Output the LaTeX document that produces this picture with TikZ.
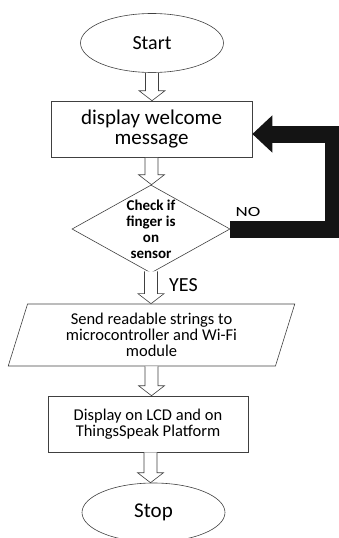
\documentclass[tikz,border=0pt]{standalone}
\usepackage{fontspec}
\usepackage{graphicx}
\setmainfont{Carlito}
\usetikzlibrary{shapes.geometric,arrows.meta,calc}

\tikzset{
  fsz/.style 2 args={font=\fontsize{#1}{#2}\selectfont},
  terminal/.style={draw=black!75, line width=0.6pt, ellipse, minimum width=143pt, minimum height=59pt, inner sep=0pt},
  procbox/.style={draw=black!75, line width=0.6pt, rectangle, inner sep=0pt, align=center},
  iobox/.style={draw=black!75, line width=0.6pt, trapezium, trapezium left angle=73, trapezium right angle=107,
    trapezium stretches=true, inner sep=0pt, align=center},
  decision/.style={draw=black!75, line width=0.6pt, diamond, minimum width=158pt, minimum height=88pt, inner sep=0pt},
  % outlined block arrow between two nodes
  hollow/.style={draw=black!75, fill=white, line width=0.6pt, line join=miter,
    to path={let \p1=(\tikztostart), \p2=(\tikztotarget) in
      ({\x1-6.5pt},\y1) -- ({\x1-6.5pt},{\y2+10pt}) -- ({\x1-13pt},{\y2+10pt}) -- (\x1,\y2)
      -- ({\x1+13pt},{\y2+10pt}) -- ({\x1+6.5pt},{\y2+10pt}) -- ({\x1+6.5pt},\y1)}},
  loopback/.style={draw=black!92, line width=17pt, line join=miter, line cap=butt,
    -{Triangle[length=20pt,width=36pt]}}
}

\begin{document}
\begin{tikzpicture}[x=1pt, y=-1pt]
  \useasboundingbox (0,0) rectangle (339,538);

  \node[terminal, fsz={20}{20}] (start) at (152,43) {Start};
  \node[procbox, fsz={21}{19.5}, minimum width=201pt, minimum height=56pt] (disp) at (151.5,129)
    {display welcome\\message};
  \node[decision, label={[font=\bfseries\fontsize{15}{16}\selectfont, align=center]center:Check if\\finger is\\on\\sensor}]
    (dec) at (151,229) {};
  \node[iobox, fsz={16.5}{16}, minimum width=287pt, minimum height=62pt] (para) at (151.5,335)
    {Send readable strings to\\microcontroller and Wi-Fi\\module};
  \node[procbox, fsz={16.5}{15.5}, minimum width=200pt, minimum height=56pt] (lcd) at (148,424)
    {Display on LCD and on\\ThingsSpeak Platform};
  \node[terminal, fsz={21}{21}] (stop) at (153.5,512.5) {Stop};

  % flow arrows
  \draw[hollow] (start.south) to (disp.north);
  \draw[hollow] ([yshift=-0.5pt]disp.south) to (dec.north);
  \draw[hollow] ([yshift=2pt]dec.south) to (para.north);
  \draw[hollow] (para.south) to (lcd.north);
  \draw[hollow] ([xshift=2.5pt]lcd.south) to (stop.north);

  % NO branch back to the welcome message
  \draw[loopback] (dec.east) -- ++(103,0) |- ([yshift=-5pt]disp.east);

  \node[fsz={20}{20}] (yes) at (183.5,285.5) {YES};
  \node[fsz={14}{14}] (no) at (248,212.5) {\scalebox{1.35}[1]{NO}};
\end{tikzpicture}
\end{document}
